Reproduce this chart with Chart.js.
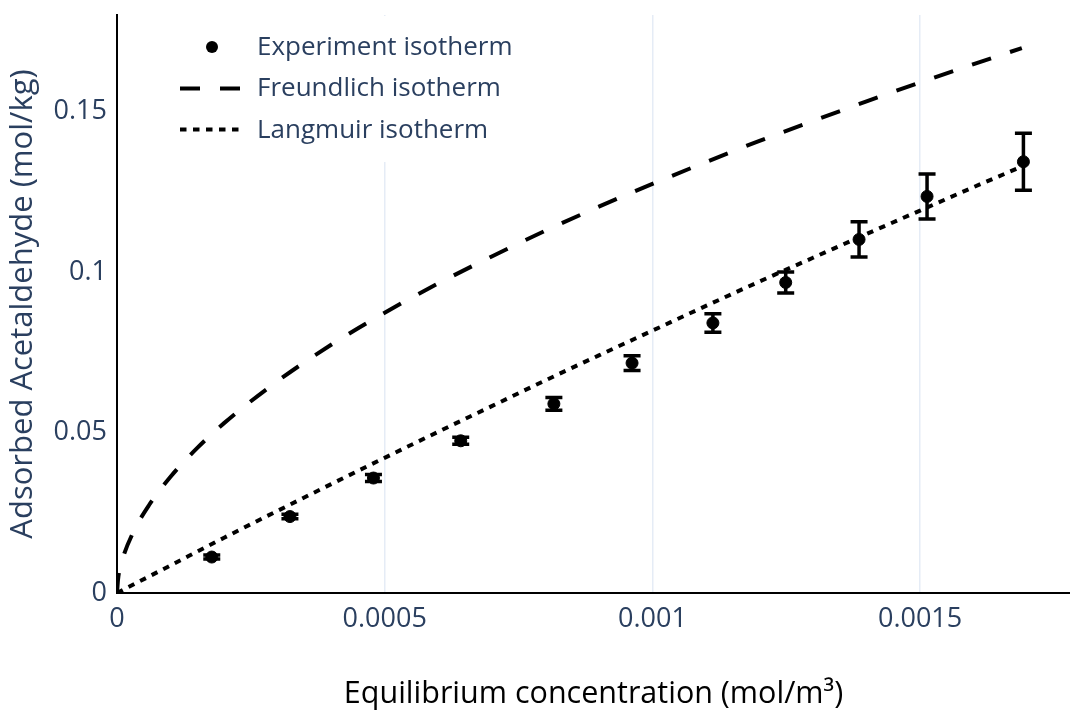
<!DOCTYPE html>
<html lang="en">
<head>
<meta charset="UTF-8">
<title>Acetaldehyde adsorption isotherms</title>
<script src="https://cdn.jsdelivr.net/npm/chart.js"></script>
<style>
  html, body { margin: 0; padding: 0; background: #fff; }
  #wrap { width: 1070px; height: 713px; position: relative; }
</style>
</head>
<body>
<div id="wrap"><canvas id="chart"></canvas></div>
<script>
// Experiment points
const expConc = [0.000177, 0.000323, 0.000479, 0.000642, 0.000816, 0.000962, 0.001113, 0.001249, 0.001386, 0.001513, 0.001693];
const expAds  = [0.0112, 0.0238, 0.0358, 0.0474, 0.0589, 0.0716, 0.0841, 0.0967, 0.1101, 0.1235, 0.1343];
const expErr  = [0.0006, 0.0007, 0.0011, 0.0011, 0.0020, 0.0023, 0.0029, 0.0033, 0.0055, 0.0070, 0.0089];

// Freundlich fit curve
const freundConc = [0, 0.000002, 0.00001, 0.00003, 0.00006, 0.0001, 0.00015, 0.0002, 0.0003, 0.0004, 0.0005, 0.0006, 0.0007, 0.0008, 0.0009, 0.001, 0.0011, 0.0012, 0.0013, 0.0014, 0.0015, 0.0016, 0.00169];
const freundAds  = [0, 0.0043, 0.0103, 0.0188, 0.0274, 0.0362, 0.0452, 0.0529, 0.0660, 0.0773, 0.0873, 0.0964, 0.1048, 0.1128, 0.1203, 0.1274, 0.1342, 0.1408, 0.1470, 0.1531, 0.1590, 0.1647, 0.1697];

// Langmuir fit curve
const langConc = [0, 0.0001, 0.0002, 0.0003, 0.0004, 0.0005, 0.0006, 0.0007, 0.0008, 0.0009, 0.001, 0.0011, 0.0012, 0.0013, 0.0014, 0.0015, 0.0016, 0.00169];
const langAds  = [0, 0.0086, 0.0172, 0.0256, 0.0339, 0.0421, 0.0502, 0.0582, 0.0662, 0.0740, 0.0817, 0.0894, 0.0970, 0.1044, 0.1118, 0.1191, 0.1264, 0.1328];

const xTicks = [0, 0.0005, 0.001, 0.0015];
const xTickLabels = ['0', '0.0005', '0.001', '0.0015'];
const yTicks = [0, 0.05, 0.1, 0.15];
const yTickLabels = ['0', '0.05', '0.1', '0.15'];

const legendLabels = ['Experiment isotherm', 'Freundlich isotherm', 'Langmuir isotherm'];

const FONT = 'Open Sans';
const TEXT = '#2a3f5f';

const toXY = (xs, ys) => xs.map((v, i) => ({x: v, y: ys[i]}));

// vertical error bars with caps
const errorBars = {
    id: 'errorBars',
    afterDatasetsDraw(chart) {
        const {ctx, scales: {x, y}} = chart;
        ctx.save();
        ctx.strokeStyle = '#000';
        ctx.lineWidth = 3.5;
        expConc.forEach((c, i) => {
            const px = x.getPixelForValue(c);
            const top = y.getPixelForValue(expAds[i] + expErr[i]);
            const bot = y.getPixelForValue(expAds[i] - expErr[i]);
            ctx.beginPath();
            ctx.moveTo(px, top); ctx.lineTo(px, bot);
            ctx.moveTo(px - 8.5, top); ctx.lineTo(px + 8.5, top);
            ctx.moveTo(px - 8.5, bot); ctx.lineTo(px + 8.5, bot);
            ctx.stroke();
        });
        ctx.restore();
    }
};

// legend inside the plot, top left, white background
const legendBox = {
    id: 'legendBox',
    beforeDatasetsDraw(chart) {
        const ctx = chart.ctx;
        ctx.save();
        ctx.fillStyle = '#fff';
        ctx.fillRect(168, 16, 362, 146);
        ctx.restore();
    },
    afterDraw(chart) {
        const ctx = chart.ctx;
        ctx.save();
        ctx.fillStyle = '#000';
        ctx.beginPath();
        ctx.arc(212, 47, 6, 0, Math.PI * 2);
        ctx.fill();
        ctx.strokeStyle = '#000';
        ctx.lineWidth = 4;
        ctx.setLineDash([20, 20]);
        ctx.beginPath(); ctx.moveTo(180, 88.5); ctx.lineTo(240, 88.5); ctx.stroke();
        ctx.setLineDash([6.5, 6.5]);
        ctx.beginPath(); ctx.moveTo(180, 129.5); ctx.lineTo(240, 129.5); ctx.stroke();
        ctx.setLineDash([]);
        ctx.font = '26px "' + FONT + '"';
        ctx.fillStyle = TEXT;
        ctx.textBaseline = 'middle';
        const rows = [48, 89, 131];
        legendLabels.forEach((t, i) => ctx.fillText(t, 257, rows[i]));
        ctx.restore();
    }
};

const ctx = document.getElementById('chart').getContext('2d');
new Chart(ctx, {
    type: 'scatter',
    data: {
        datasets: [{
            label: legendLabels[0],
            data: toXY(expConc, expAds),
            backgroundColor: '#000',
            borderColor: '#000',
            pointRadius: 6,
            showLine: false
        }, {
            label: legendLabels[1],
            data: toXY(freundConc, freundAds),
            showLine: true,
            borderColor: '#000',
            borderWidth: 4,
            borderDash: [20, 20],
            pointRadius: 0,
            cubicInterpolationMode: 'monotone',
            fill: false
        }, {
            label: legendLabels[2],
            data: toXY(langConc, langAds),
            showLine: true,
            borderColor: '#000',
            borderWidth: 4,
            borderDash: [6.5, 6.5],
            pointRadius: 0,
            cubicInterpolationMode: 'monotone',
            fill: false
        }]
    },
    options: {
        responsive: true,
        maintainAspectRatio: false,
        animation: false,
        devicePixelRatio: 1,
        layout: { autoPadding: false, padding: { top: 15, right: 0, left: 0, bottom: 0 } },
        plugins: {
            legend: { display: false },
            tooltip: { enabled: false }
        },
        scales: {
            x: {
                type: 'linear',
                min: 0,
                max: 0.00178,
                afterBuildTicks: s => { s.ticks = xTicks.map(v => ({value: v})); },
                afterFit: s => { s.height = 120; s.paddingLeft = 0; s.paddingRight = 0; },
                ticks: {
                    callback: v => xTickLabels[xTicks.indexOf(v)],
                    color: TEXT,
                    font: { family: FONT, size: 27 },
                    padding: 10,
                    maxRotation: 0,
                    autoSkip: false
                },
                grid: {
                    color: c => (c.tick && c.tick.value === 0) ? 'rgba(0,0,0,0)' : '#E5ECF6',
                    lineWidth: 1.5,
                    drawTicks: false
                },
                border: { color: '#000', width: 2 },
                title: {
                    display: true,
                    text: 'Equilibrium concentration (mol/m³)',
                    color: '#000',
                    font: { family: FONT, size: 30.5 },
                    padding: { top: 0, bottom: 0 }
                }
            },
            y: {
                type: 'linear',
                min: 0,
                max: 0.18,
                afterBuildTicks: s => { s.ticks = yTicks.map(v => ({value: v})); },
                afterFit: s => { s.width = 117; s.paddingTop = 0; s.paddingBottom = 0; },
                ticks: {
                    callback: v => yTickLabels[yTicks.indexOf(v)],
                    color: TEXT,
                    font: { family: FONT, size: 27 },
                    padding: 10
                },
                grid: { display: false, drawTicks: false },
                border: { color: '#000', width: 2 },
                title: {
                    display: true,
                    text: 'Adsorbed Acetaldehyde (mol/kg)',
                    color: TEXT,
                    font: { family: FONT, size: 31 },
                    padding: { top: 5, bottom: 5 }
                }
            }
        }
    },
    plugins: [legendBox, errorBars]
});
</script>
</body>
</html>
